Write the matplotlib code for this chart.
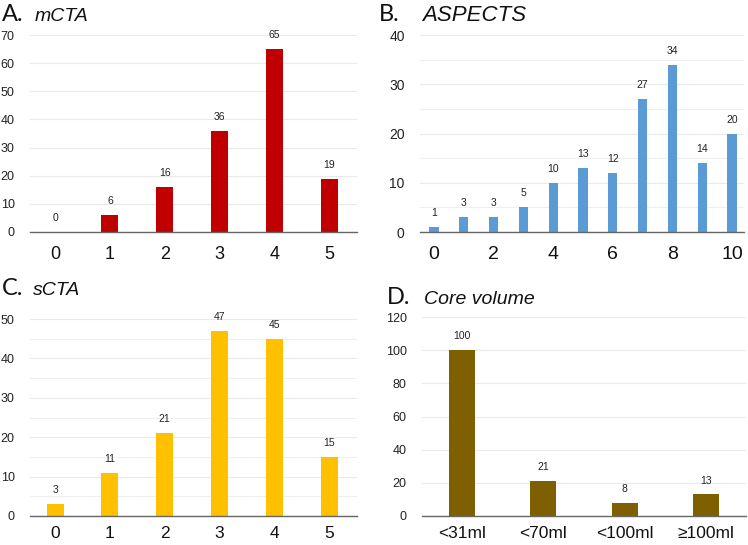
"""Four-panel bar chart: mCTA, ASPECTS, sCTA and core volume distributions."""

import matplotlib.pyplot as plt
from matplotlib.ticker import MultipleLocator

plt.rcParams["font.family"] = ["Liberation Sans", "DejaVu Sans"]

# Panel data
mcta_cats = [0, 1, 2, 3, 4, 5]
mcta_vals = [0, 6, 16, 36, 65, 19]

aspects_cats = list(range(11))
aspects_vals = [1, 3, 3, 5, 10, 13, 12, 27, 34, 14, 20]

scta_cats = [0, 1, 2, 3, 4, 5]
scta_vals = [3, 11, 21, 47, 45, 15]

core_cats = ["<31ml", "<70ml", "<100ml", "≥100ml"]
core_vals = [100, 21, 8, 13]

W, H = 748, 545


def box(left, right, top, bottom):
    # pixel box -> figure fraction rect
    return [left / W, 1 - bottom / H, (right - left) / W, (bottom - top) / H]


def draw_panel(ax, x, vals, color, ylim, major, minor, xlim, width,
               xticks, xlabels, ytick_size, xtick_size, xpad=10):
    ax.bar(x, vals, width=width, color=color, zorder=2)
    ax.set_ylim(0, ylim)
    ax.set_xlim(*xlim)
    ax.yaxis.set_major_locator(MultipleLocator(major))
    if minor:
        ax.yaxis.set_minor_locator(MultipleLocator(minor))
        ax.grid(axis="y", which="minor", color="#efefef", linewidth=0.8, zorder=0)
    ax.grid(axis="y", which="major", color="#eaeaea", linewidth=0.8, zorder=0)
    for s in ["top", "right", "left"]:
        ax.spines[s].set_visible(False)
    ax.spines["bottom"].set_color("#666666")
    ax.spines["bottom"].set_linewidth(1.0)
    ax.spines["bottom"].set_zorder(3)
    ax.tick_params(axis="y", which="both", length=0, pad=11,
                   labelsize=ytick_size, labelcolor="#222222")
    ax.tick_params(axis="x", length=0, pad=xpad, labelsize=xtick_size,
                   labelcolor="#111111")
    ax.set_xticks(xticks)
    ax.set_xticklabels(xlabels)
    for xi, v in zip(x, vals):
        ax.annotate(str(v), (xi, v), xytext=(0, 10), textcoords="offset points",
                    ha="center", va="center", fontsize=7.5, color="#222222")


fig = plt.figure(figsize=(7.48, 5.45), dpi=100)

ax_a = fig.add_axes(box(30, 357, 35, 232))
draw_panel(ax_a, mcta_cats, mcta_vals, "#c00000", 70, 10, None,
           (-0.46, 5.51), 0.31, mcta_cats, [str(c) for c in mcta_cats], 9, 13)

ax_b = fig.add_axes(box(420, 744, 35, 232))
draw_panel(ax_b, aspects_cats, aspects_vals, "#5b9bd5", 40, 10, 5,
           (-0.47, 10.4), 0.31, aspects_cats[::2],
           [str(c) for c in aspects_cats[::2]], 10, 14)

ax_c = fig.add_axes(box(30, 357, 319, 516))
draw_panel(ax_c, scta_cats, scta_vals, "#ffc000", 50, 10, 5,
           (-0.46, 5.51), 0.31, scta_cats, [str(c) for c in scta_cats], 9, 12.5,
           xpad=7)

core_x = list(range(len(core_cats)))
ax_d = fig.add_axes(box(422, 746, 317, 516))
draw_panel(ax_d, core_x, core_vals, "#7f6000", 120, 20, None,
           (-0.49, 3.49), 0.32, core_x, core_cats, 9, 12.5, xpad=7)

# Panel titles
title_font = ["Lato", "DejaVu Sans"]
fig.text(2 / W, 1 - 21 / H, "A.", fontsize=17, family=title_font, color="#111111")
fig.text(35 / W, 1 - 21 / H, "mCTA", fontsize=14, style="italic", color="#111111")
fig.text(379 / W, 1 - 21 / H, "B.", fontsize=17, family=title_font, color="#111111")
fig.text(422 / W, 1 - 21 / H, "ASPECTS", fontsize=16, style="italic", color="#111111")
fig.text(2 / W, 1 - 295 / H, "C.", fontsize=17, family=title_font, color="#111111")
fig.text(33 / W, 1 - 295 / H, "sCTA", fontsize=14, style="italic", color="#111111")
fig.text(387 / W, 1 - 304 / H, "D.", fontsize=17, family=title_font, color="#111111")
fig.text(424 / W, 1 - 304 / H, "Core volume", fontsize=14, style="italic", color="#111111")

fig.savefig("out.png", dpi=100)
